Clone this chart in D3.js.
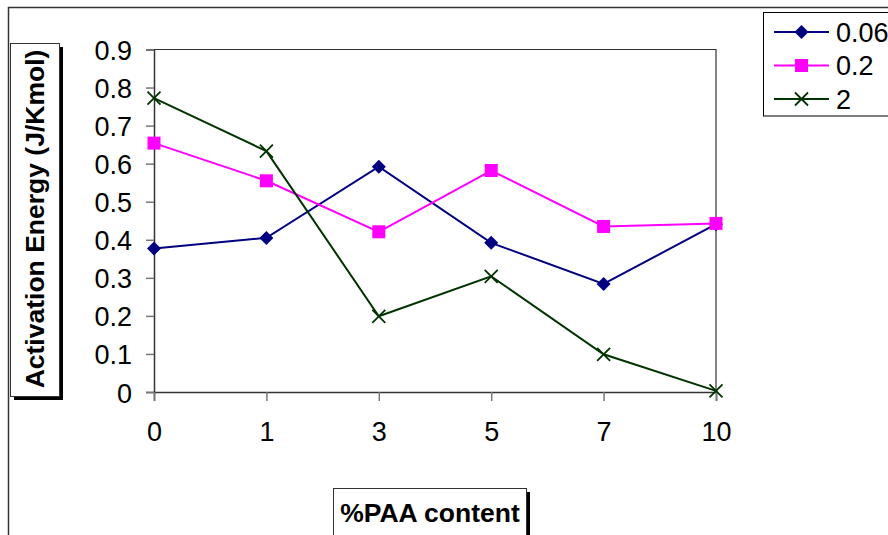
<!DOCTYPE html>
<meta charset="utf-8">
<script src="https://d3js.org/d3.v7.min.js"></script>
<style>
  body { margin: 0; background: #fff; }
  text { font-family: "Liberation Sans", Arial, sans-serif; }
</style>
<div id="chart"></div>
<script>
// data
var categories = ["0", "1", "3", "5", "7", "10"];
var seriesNames = ["0.06", "0.2", "2"];
var s006 = [0.377, 0.405, 0.592, 0.392, 0.284, 0.441];
var s02 = [0.654, 0.555, 0.421, 0.582, 0.435, 0.443];
var s2 = [0.772, 0.633, 0.199, 0.304, 0.099, 0.003];
var yTicks = [0, 0.1, 0.2, 0.3, 0.4, 0.5, 0.6, 0.7, 0.8, 0.9];

var series = [
  {name: seriesNames[0], values: s006, color: "#000080", marker: "diamond"},
  {name: seriesNames[1], values: s02, color: "#ff00ff", marker: "square"},
  {name: seriesNames[2], values: s2, color: "#003300", marker: "cross"}
];

var W = 888, H = 535;
var svg = d3.select("#chart").append("svg")
    .attr("width", W)
    .attr("height", H);

// chart area frame (cut off at right and bottom)
svg.append("path")
    .attr("d", "M8.5," + (H + 2) + "V7.5H" + (W + 2))
    .attr("fill", "none")
    .attr("stroke", "#333")
    .attr("stroke-width", 1.5);

var x = d3.scalePoint().domain(categories).range([154, 716]);
var y = d3.scaleLinear().domain([0, 0.9]).range([392, 49.5]);

// plot area border (top and right)
svg.append("path")
    .attr("d", "M" + x.range()[0] + "," + y(0.9) + "H" + x.range()[1] + "V" + y(0))
    .attr("fill", "none")
    .attr("stroke", "#333")
    .attr("stroke-width", 1.2);

var yAxis = svg.append("g")
    .attr("transform", "translate(" + x.range()[0] + ",0)")
    .call(d3.axisLeft(y).tickValues(yTicks).tickSize(8).tickPadding(14)
      .tickFormat(function(d) { return d === 0 ? "0" : d.toFixed(1); }));
var xAxis = svg.append("g")
    .attr("transform", "translate(0," + y(0) + ")")
    .call(d3.axisBottom(x).tickSize(9).tickPadding(21));

[yAxis, xAxis].forEach(function(g) {
  g.select(".domain").attr("stroke", "#333").attr("stroke-width", 1.5);
  g.selectAll(".tick line").attr("stroke", "#777").attr("stroke-width", 1.5);
  g.selectAll(".tick text")
    .attr("fill", "#000")
    .style("font-size", "27px")
    .style("font-family", "'Liberation Sans', Arial, sans-serif");
});
yAxis.selectAll(".tick text").attr("dy", "0.37em");

function drawMarker(g, type, color, cx, cy) {
  if (type === "diamond") {
    g.append("path")
      .attr("d", "M" + cx + "," + (cy - 7) + "L" + (cx + 7) + "," + cy + "L" + cx + "," + (cy + 7) + "L" + (cx - 7) + "," + cy + "Z")
      .attr("fill", color);
  } else if (type === "square") {
    g.append("rect")
      .attr("x", cx - 6.5).attr("y", cy - 6.5)
      .attr("width", 13).attr("height", 13)
      .attr("fill", color);
  } else {
    g.append("path")
      .attr("d", "M" + (cx - 6.5) + "," + (cy - 6.5) + "L" + (cx + 6.5) + "," + (cy + 6.5) +
                 "M" + (cx - 6.5) + "," + (cy + 6.5) + "L" + (cx + 6.5) + "," + (cy - 6.5))
      .attr("stroke", color)
      .attr("stroke-width", 1.8)
      .attr("fill", "none");
  }
}

var line = d3.line()
    .x(function(d, i) { return x(categories[i]); })
    .y(function(d) { return y(d); });

series.forEach(function(s) {
  var g = svg.append("g");
  g.append("path")
    .attr("d", line(s.values))
    .attr("fill", "none")
    .attr("stroke", s.color)
    .attr("stroke-width", 2);
  s.values.forEach(function(v, i) {
    drawMarker(g, s.marker, s.color, x(categories[i]), y(v));
  });
});

// legend
var legend = svg.append("g");
legend.append("rect")
    .attr("x", 763.5).attr("y", 12.5)
    .attr("width", 140).attr("height", 103.5)
    .attr("fill", "#fff")
    .attr("stroke", "#000")
    .attr("stroke-width", 1);
series.forEach(function(s, i) {
  var ly = 32 + i * 33.5;
  legend.append("line")
    .attr("x1", 774).attr("x2", 829)
    .attr("y1", ly).attr("y2", ly)
    .attr("stroke", s.color)
    .attr("stroke-width", 2);
  drawMarker(legend, s.marker, s.color, 801.5, ly);
  legend.append("text")
    .attr("x", 836).attr("y", ly)
    .attr("dy", "0.36em")
    .style("font-size", "27px")
    .text(s.name);
});

// axis title boxes with shadow
function titleBox(bx, by, bw, bh) {
  svg.append("rect")
    .attr("x", bx + 4).attr("y", by + 4)
    .attr("width", bw).attr("height", bh)
    .attr("fill", "#000");
  svg.append("rect")
    .attr("x", bx + 0.5).attr("y", by + 0.5)
    .attr("width", bw).attr("height", bh)
    .attr("fill", "#fff")
    .attr("stroke", "#333")
    .attr("stroke-width", 1);
}

titleBox(10, 43, 49, 353);
svg.append("text")
    .attr("transform", "translate(44,219) rotate(-90)")
    .attr("text-anchor", "middle")
    .style("font-size", "26.5px")
    .style("font-weight", "bold")
    .text("Activation Energy (J/Kmol)");

titleBox(333, 488, 193, 60);
svg.append("text")
    .attr("x", 430)
    .attr("y", 522)
    .attr("text-anchor", "middle")
    .style("font-size", "26.5px")
    .style("font-weight", "bold")
    .text("%PAA content");
</script>
